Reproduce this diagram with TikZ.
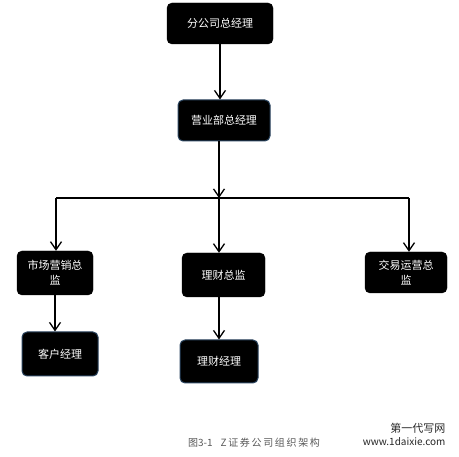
\documentclass[tikz,border=0pt]{standalone}
\usepackage{fontspec}
\setmainfont{Noto Sans CJK SC}
\usetikzlibrary{arrows.meta,positioning}
\definecolor{edgeblue}{HTML}{2B4560}
\tikzset{
  post/.style={rounded corners=5pt,fill=black,draw=black,text=white,align=center,
    font=\fontsize{11}{15}\selectfont,inner sep=2pt},
  postb/.style={post,draw=edgeblue,line width=1pt},
  link/.style={line width=1.3pt,-{Straight Barb[length=8pt,width=11pt,line width=1.3pt]}},
}
\begin{document}
\begin{tikzpicture}[x=1pt,y=-1pt]
  \useasboundingbox (0,0) rectangle (459,457);
  % top of the chart
  \node[post,minimum width=106pt,minimum height=41pt] (fgs) at (220,23.5) {分公司总经理};
  \node[postb,minimum width=92pt,minimum height=41pt] (yyb) at (224,120.5) {营业部总经理};
  \coordinate (bus) at (219,198);
  % directors
  \node[post,minimum width=76pt,minimum height=44pt] (scyx) at (55,273) {市场营销总\\监};
  \node[post,minimum width=83pt,minimum height=44pt] (lczj) at (223.5,275) {理财总监};
  \node[post,minimum width=82pt,minimum height=41pt] (jyyy) at (406,272.5) {交易运营总\\监};
  % staff
  \node[postb,minimum width=76pt,minimum height=44pt] (khjl) at (60,354) {客户经理};
  \node[postb,minimum width=78pt,minimum height=43pt] (lcjl) at (219,361.5) {理财经理};
  % connectors
  \draw[link] (fgs.south) -- (fgs.south |- yyb.north);
  \draw[link] (yyb.south -| bus) -- (bus);
  \draw[line width=1.3pt] (bus -| 56,0) -- (bus -| 409,0);
  \draw[link] (bus -| 56,0) -- (56,0 |- scyx.north);
  \draw[link] (bus) -- (bus |- lczj.north);
  \draw[link] (bus -| 409,0) -- (409,0 |- jyyy.north);
  \draw[link] (55,0 |- scyx.south) -- (55,0 |- khjl.north);
  \draw[link] (219,0 |- lczj.south) -- (lcjl.north);
  % caption and mark
  \node[text=black!65,font=\fontsize{10}{12}\selectfont] (cap) at (254,443) {图3-1\hspace{8pt}Z\,证\,券\,公\,司\,组\,织\,架\,构};
  \node[text=black!85,font=\fontsize{11}{12}\selectfont,anchor=east] (mark1) at (449,428) {第一代写网};
  \node[text=black!85,font=\fontsize{10}{12}\selectfont,anchor=east] (mark2) at (449,442) {www.1daixie.com};
\end{tikzpicture}
\end{document}
